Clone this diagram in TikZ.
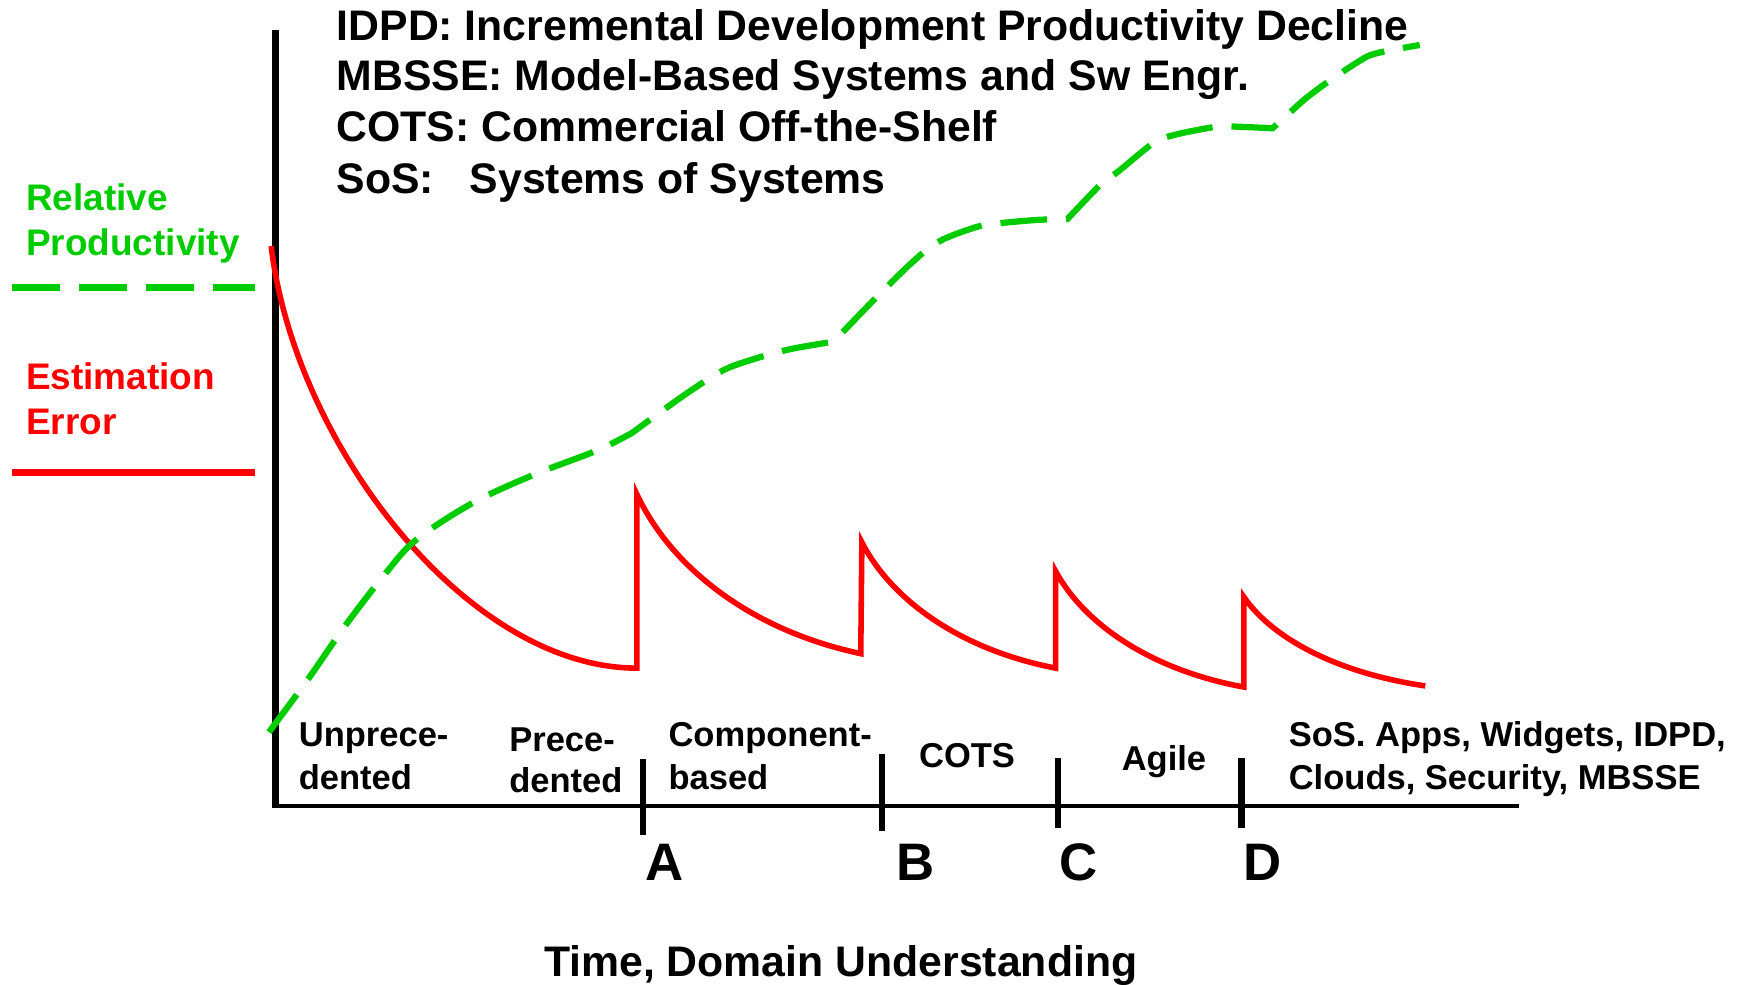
\documentclass[tikz,border=0pt]{standalone}
\usepackage{fontspec}
\setmainfont{Liberation Sans}
\definecolor{pgreen}{RGB}{0,204,0}
\definecolor{pred}{RGB}{255,0,0}
\begin{document}
\begin{tikzpicture}[x=0.5pt,y=-0.5pt,
  hdr/.style={anchor=base west,inner sep=0pt,font=\fontsize{19.2}{23}\selectfont\bfseries},
  leg/.style={anchor=base west,inner sep=0pt,font=\fontsize{16.6}{20}\selectfont\bfseries},
  phase/.style={anchor=base west,inner sep=0pt,font=\fontsize{15.5}{19}\selectfont\bfseries},
  mark letter/.style={anchor=base west,inner sep=0pt,font=\fontsize{23.7}{28}\selectfont\bfseries},
  axisline/.style={line width=1.8pt,black},
  yaxisline/.style={line width=3pt,black},
  tickline/.style={line width=3pt,black},
  errline/.style={line width=2.5pt,pred},
  prodline/.style={line width=2.8pt,pgreen,dash pattern=on 21pt off 8.5pt},
  legprod/.style={line width=3pt,pgreen,dash pattern=on 21.5pt off 8.5pt},
  legerr/.style={line width=3pt,pred}]
\useasboundingbox (0,0) rectangle (1568,884);

% header
\node[hdr] (h1) at (302,36) {IDPD: Incremental Development Productivity Decline};
\node[hdr] (h2) at (302,81) {MBSSE: Model-Based Systems and Sw Engr.};
\node[hdr] (h3) at (302,127) {COTS: Commercial Off-the-Shelf};
\node[hdr] (h4) at (302,174) {SoS:\ \ \ Systems of Systems};

% legend
\node[leg,text=pgreen] (l1) at (23,189) {Relative};
\node[leg,text=pgreen] (l2) at (23,229) {Productivity};
\node[leg,text=pred] (l3) at (23,350) {Estimation};
\node[leg,text=pred] (l4) at (23,390) {Error};
\coordinate (lg1) at (11,258);
\coordinate (lg2) at (229,258);
\coordinate (lr1) at (11,424.5);
\coordinate (lr2) at (229,424.5);
\draw[legprod] (lg1) -- (lg2);
\draw[legerr] (lr1) -- (lr2);

% axes
\coordinate (ytop) at (247.5,27);
\coordinate (origin) at (247.5,724);
\coordinate (xend) at (1364,724);
\draw[yaxisline] (ytop) -- (247.5,726);
\draw[axisline] (origin) -- (xend);

% ticks
\coordinate (tA1) at (577.5,682); \coordinate (tA2) at (577.5,750);
\coordinate (tB1) at (792,677);   \coordinate (tB2) at (792,746);
\coordinate (tC1) at (950,681);   \coordinate (tC2) at (950,744);
\coordinate (tD1) at (1115,681);  \coordinate (tD2) at (1115,744);
\draw[tickline] (tA1) -- (tA2);
\draw[tickline] (tB1) -- (tB2);
\draw[tickline] (tC1) -- (tC2);
\draw[tickline] (tD1) -- (tD2);

\node[mark letter] (A) at (579,791) {A};
\node[mark letter] (B) at (805,791) {B};
\node[mark letter] (C) at (951,791) {C};
\node[mark letter] (D) at (1116,791) {D};

\node[hdr,anchor=base] (xlabel) at (755,877) {Time, Domain Understanding};

% phase labels
\node[phase] (p1a) at (268,670) {Unprece-};
\node[phase] (p1b) at (268,709) {dented};
\node[phase] (p2a) at (457,675) {Prece-};
\node[phase] (p2b) at (457,712) {dented};
\node[phase] (p3a) at (600,670) {Component-};
\node[phase] (p3b) at (600,709) {based};
\node[phase] (p4) at (825,689) {COTS};
\node[phase] (p5) at (1007,692) {Agile};
\node[phase] (p6a) at (1157,670) {SoS. Apps, Widgets, IDPD,};
\node[phase] (p6b) at (1157,709) {Clouds, Security, MBSSE};

% estimation error curve
\draw[errline] (243.5,221) .. controls (265,400) and (420,600) .. (572,600)
  -- (572,444) .. controls (602.2,508.4) and (672.5,565.6) .. (773,587)
  -- (774,487) .. controls (800.1,537.9) and (861,583.1) .. (948,600)
  -- (948,513) .. controls (973.4,559.8) and (1032.5,601.4) .. (1117,617)
  -- (1117,536) .. controls (1141.5,572) and (1198.5,604) .. (1280,616);

% relative productivity curve
\draw[prodline]
  plot[smooth,tension=0.55] coordinates {(241.5,657.5) (276.8,609.7) (310.2,561.7) (346.8,514.2) (374.3,484.3) (424.8,451.5) (479.7,426.2) (535,405) (567.1,389.1)}
  -- plot[smooth,tension=0.55] coordinates {(567.1,389.1) (612.5,356.2) (644.5,335.3) (665,326.3) (706.3,314.3) (748.5,306.9)}
  -- plot[smooth,tension=0.55] coordinates {(748.5,306.9) (789,265) (821.5,233.5) (843,217) (870.2,206) (889,201.5) (929.9,197.6) (958.6,196.7)}
  -- plot[smooth,tension=0.55] coordinates {(958.6,196.7) (989.5,164.6) (1004,154.2) (1035.5,128.7) (1054.5,121.2) (1092.4,113.8) (1111.4,113.8) (1142.8,115.2)}
  -- plot[smooth,tension=0.55] coordinates {(1142.8,115.2) (1172.6,88.3) (1185.6,78.4) (1219.8,55.4) (1236,47.9) (1275,40.4)};
\end{tikzpicture}
\end{document}
